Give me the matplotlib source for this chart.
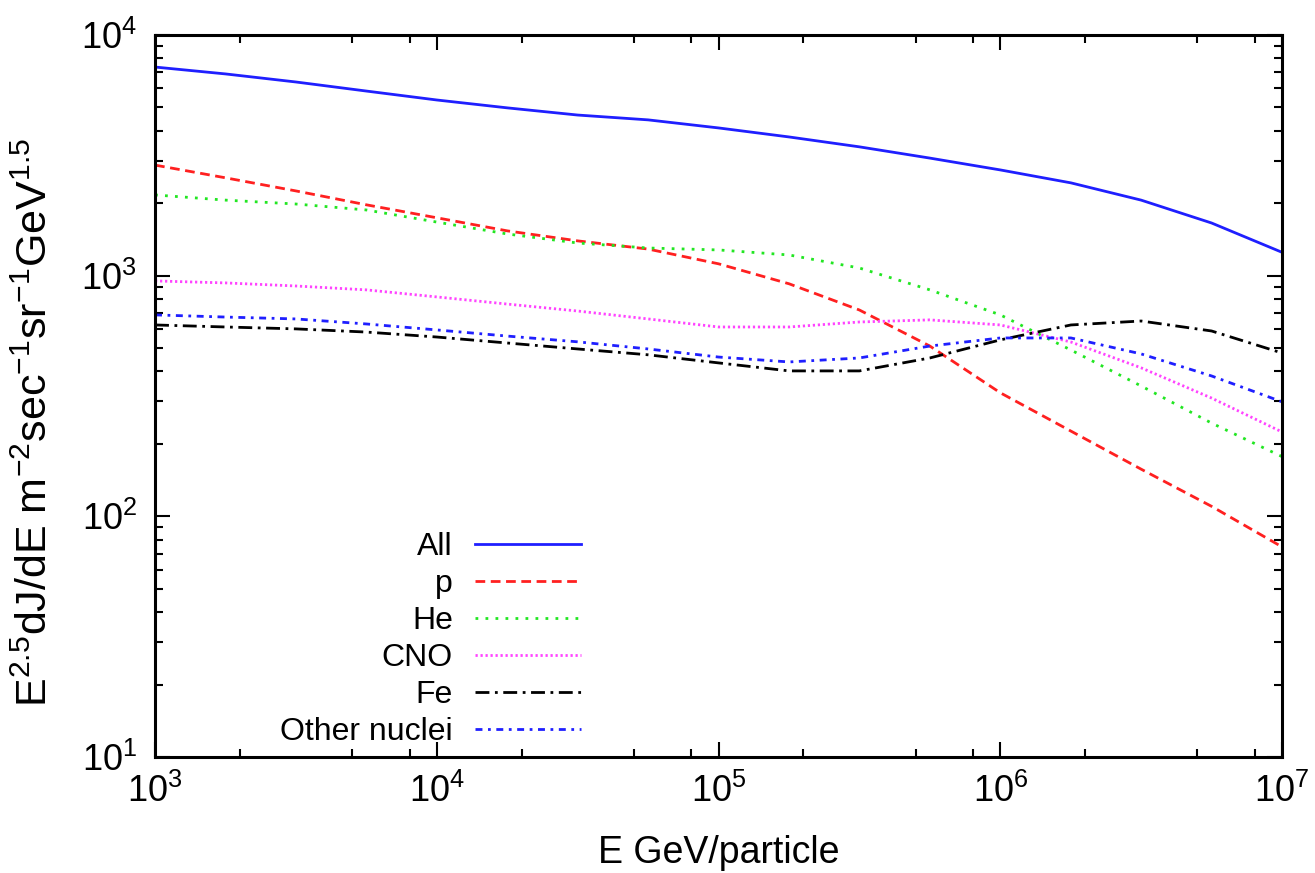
import numpy as np
import matplotlib
matplotlib.use("Agg")
import matplotlib.pyplot as plt
from matplotlib.ticker import LogLocator, NullFormatter

plt.rcParams["font.family"] = ["Liberation Sans", "DejaVu Sans"]
plt.rcParams["mathtext.fontset"] = "custom"
plt.rcParams["mathtext.rm"] = "Liberation Sans"
plt.rcParams["mathtext.it"] = "Liberation Sans"

# energies (GeV/particle), values
energy = [1.0e3, 1.78e3, 3.16e3, 5.62e3, 1.0e4, 1.78e4, 3.16e4, 5.62e4,
          1.0e5, 1.78e5, 3.16e5, 5.62e5, 1.0e6, 1.78e6, 3.16e6, 5.62e6, 1.0e7]

flux_all = [7360, 6890, 6380, 5850, 5370, 4980, 4650, 4440,
            4110, 3770, 3430, 3080, 2750, 2430, 2060, 1655, 1250]
flux_p = [2880, 2550, 2250, 1970, 1740, 1535, 1395, 1290,
          1120, 925, 720, 510, 326, 226, 157, 110, 74.6]
flux_he = [2165, 2060, 1985, 1875, 1670, 1490, 1367, 1303,
           1279, 1219, 1076, 873, 687, 491, 348, 244, 177]
flux_cno = [951, 933, 906, 873, 816, 762, 713, 661,
            612, 612, 642, 655, 624, 530, 414, 310, 224]
flux_fe = [624, 612, 601, 583, 556, 525, 496, 469,
           434, 402, 402, 455, 541, 624, 648, 589, 477]
flux_other = [687, 673, 661, 630, 595, 561, 531, 496,
              459, 438, 455, 510, 551, 551, 473, 383, 299]

labels = ["All", "p", "He", "CNO", "Fe", "Other nuclei"]

fig = plt.figure(figsize=(13.15, 8.73), dpi=100)
ax = fig.add_axes([0.1179, 0.1329, 0.8571, 0.8270])

lw = 2.0
ax.plot(energy, flux_all, color="#1f1fff", lw=lw, ls="-", label=labels[0])
ax.plot(energy, flux_p, color="#ff2020", lw=lw, ls=(0, (3.5, 2.0)), label=labels[1])
ax.plot(energy, flux_he, color="#22e622", lw=lw, ls=(0, (1.0, 2.6)), label=labels[2])
ax.plot(energy, flux_cno, color="#ff44ff", lw=lw, ls=(0, (0.8, 1.0)), label=labels[3])
ax.plot(energy, flux_fe, color="black", lw=lw, ls=(0, (5.0, 2.0, 1.0, 2.0)), label=labels[4])
ax.plot(energy, flux_other, color="#1f1fff", lw=lw, ls=(0, (2.5, 2.0, 1.0, 2.0)), label=labels[5])

ax.set_xscale("log")
ax.set_yscale("log")
ax.set_xlim(1e3, 1e7)
ax.set_ylim(1e1, 1e4)

ax.xaxis.set_minor_locator(LogLocator(base=10, subs=[2, 5, 8]))
ax.yaxis.set_minor_locator(LogLocator(base=10, subs=np.arange(2, 10)))
ax.xaxis.set_minor_formatter(NullFormatter())
ax.yaxis.set_minor_formatter(NullFormatter())

ax.tick_params(which="both", direction="in", top=True, right=True, width=1.5)
ax.tick_params(which="major", length=11, labelsize=26)
ax.tick_params(which="minor", length=6)
ax.tick_params(axis="x", which="major", pad=12)
ax.tick_params(axis="y", which="major", pad=13)
for s in ax.spines.values():
    s.set_linewidth(2.2)

ax.set_xlabel("E GeV/particle", fontsize=27, labelpad=18)
ax.set_ylabel(r"E$^{2.5}$dJ/dE m$^{-2}$sec$^{-1}$sr$^{-1}$GeV$^{1.5}$",
              fontsize=31)
ax.yaxis.set_label_coords(-0.088, 0.464)

ax.legend(loc="lower right", bbox_to_anchor=(0.389, -0.004), frameon=False,
          markerfirst=False, fontsize=23, handlelength=3.3, handletextpad=0.7,
          labelspacing=0.22, borderaxespad=0.0)

fig.savefig("out.png", dpi=100)
